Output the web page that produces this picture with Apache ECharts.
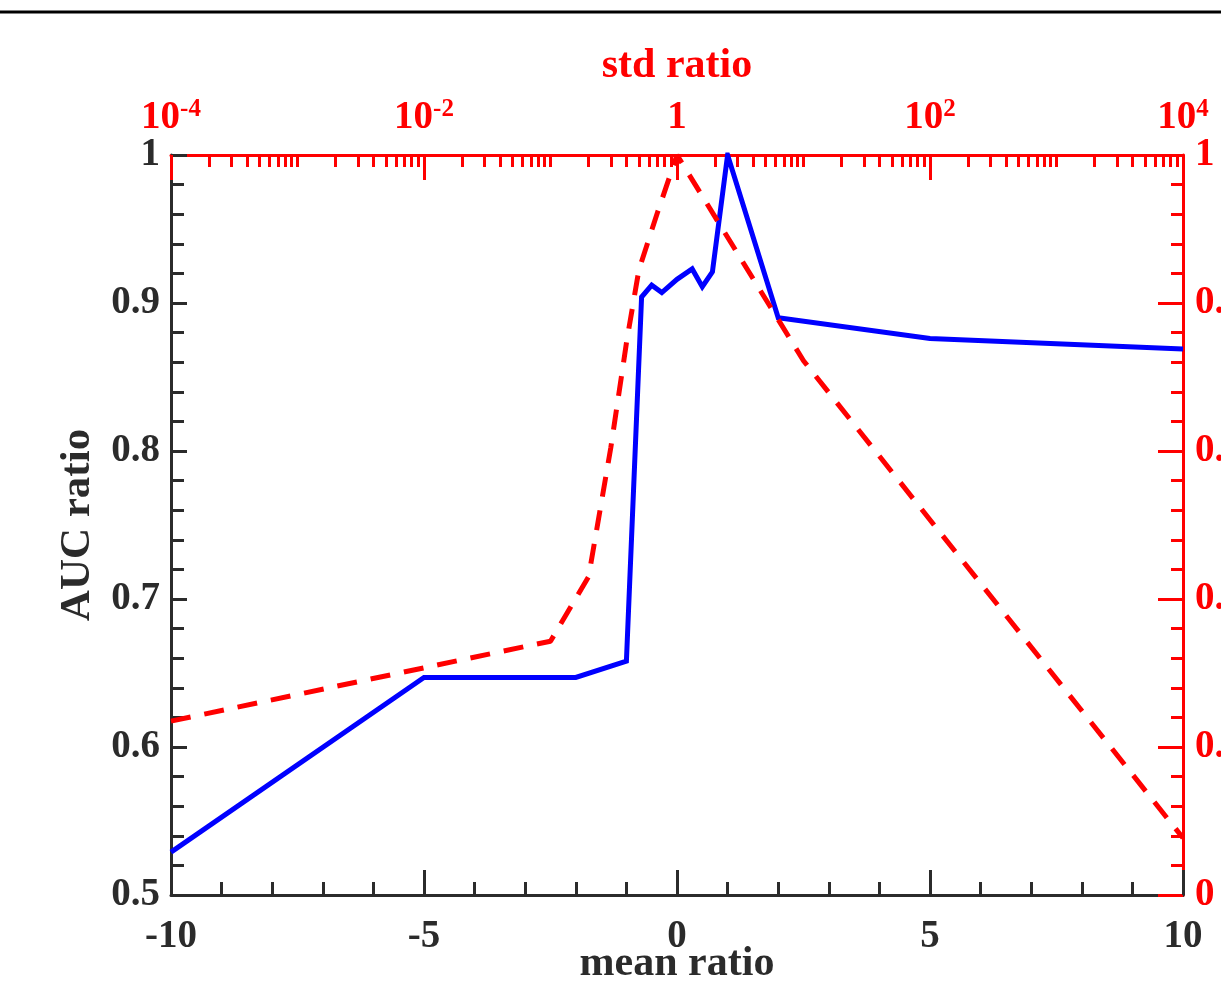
<!DOCTYPE html>
<html>
<head>
<meta charset="utf-8">
<script src="https://cdn.jsdelivr.net/npm/echarts@6/dist/echarts.min.js"></script>
<style>
html,body{margin:0;padding:0;background:#fff;}
#chart{width:1221px;height:982px;}
</style>
</head>
<body>
<div id="chart"></div>
<script>
// blue curve: mean ratio (bottom) vs AUC ratio (left)
var meanRatio = [-10, -5, -2, -1, -0.7, -0.5, -0.3, 0, 0.3, 0.5, 0.7, 1, 2, 5, 10];
var aucMean = [0.529, 0.647, 0.647, 0.658, 0.904, 0.912, 0.907, 0.916, 0.923, 0.911, 0.921, 1.0, 0.890, 0.876, 0.869];

// red dashed curve: std ratio (top, log) vs right axis
var stdRatio = [1e-4, 0.1, 0.2, 0.3, 0.4, 0.5, 0.7, 1, 10, 1e4];
var aucStd = [0.235, 0.343, 0.430, 0.605, 0.748, 0.845, 0.922, 1.0, 0.722, 0.077];

// tick labels
var stdTicks = [1e-4, 1e-2, 1, 1e2, 1e4];
var stdTickExp = [-4, -2, 0, 2, 4];
var meanTicks = [-10, -5, 0, 5, 10];
var aucTicks = [0.5, 0.6, 0.7, 0.8, 0.9, 1];

var FONT = '"Liberation Serif", "Times New Roman", serif';
var DARK = '#2b2b2b';
var RED = '#ff0000';

// small ticks on the log axis: 1..9 x 10^k, without the labelled decades
var stdMinor = [];
for (var k = -4; k < 4; k++) {
    for (var m = 1; m < 10; m++) {
        var v = m * Math.pow(10, k);
        if (m == 1 && stdTickExp.indexOf(k) >= 0) continue;
        stdMinor.push(v);
    }
}

function stdLabel(val) {
    var i = stdTicks.indexOf(val);
    var e = i >= 0 ? stdTickExp[i] : Math.round(Math.log10(val));
    if (e == 0) return '{b|1}';
    return '{b|10}{s|' + e + '}';
}

var pts1 = meanRatio.map(function (x, i) { return [x, aucMean[i]]; });
var pts2 = stdRatio.map(function (x, i) { return [x, aucStd[i]]; });

var chart = echarts.init(document.getElementById('chart'));
var option = {
    backgroundColor: '#fff',
    animation: false,
    grid: [
        {left: 171, right: 38, top: 155, bottom: 87, containLabel: false, outerBoundsMode: 'none'},
        {left: 171, right: 38, top: 155, bottom: 87, containLabel: false, outerBoundsMode: 'none'}
    ],
    xAxis: [
        {
            type: 'value', gridIndex: 0, position: 'bottom',
            min: -10, max: 10, interval: 5,
            name: 'mean ratio', nameLocation: 'middle', nameGap: 48, nameMoveOverlap: false,
            nameTextStyle: {fontFamily: FONT, fontWeight: 'bold', fontSize: 42, color: DARK},
            axisLine: {onZero: false, lineStyle: {color: DARK, width: 3}},
            axisTick: {inside: true, length: 25, lineStyle: {color: DARK, width: 3}},
            minorTick: {show: true, splitNumber: 5, length: 13, lineStyle: {color: DARK, width: 3}},
            axisLabel: {customValues: meanTicks, fontFamily: FONT, fontWeight: 'bold', fontSize: 39, color: DARK, margin: 22,
                showMinLabel: true, showMaxLabel: true},
            splitLine: {show: false}
        },
        {
            type: 'log', logBase: 10, gridIndex: 0, position: 'top',
            min: 1e-4, max: 1e4,
            name: 'std ratio', nameLocation: 'middle', nameGap: 68, nameMoveOverlap: false,
            nameTextStyle: {fontFamily: FONT, fontWeight: 'bold', fontSize: 42, color: RED},
            axisLine: {onZero: false, lineStyle: {color: RED, width: 3}},
            axisTick: {inside: true, length: 25, customValues: stdTicks, lineStyle: {color: RED, width: 3}},
            axisLabel: {
                customValues: stdTicks, margin: 16, showMinLabel: true, showMaxLabel: true,
                formatter: stdLabel,
                rich: {
                    b: {fontFamily: FONT, fontWeight: 'bold', fontSize: 39, color: RED, lineHeight: 42},
                    s: {fontFamily: FONT, fontWeight: 'bold', fontSize: 25, color: RED, verticalAlign: 'top', lineHeight: 42, padding: [0, 0, 14, 0]}
                }
            },
            splitLine: {show: false}
        },
        {
            type: 'log', logBase: 10, gridIndex: 1, position: 'top',
            min: 1e-4, max: 1e4,
            axisLine: {show: false, onZero: false},
            axisTick: {inside: true, length: 12, customValues: stdMinor, lineStyle: {color: RED, width: 3}},
            axisLabel: {show: false},
            splitLine: {show: false}
        }
    ],
    yAxis: [
        {
            type: 'value', gridIndex: 0, position: 'left',
            min: 0.5, max: 1, interval: 0.1,
            name: 'AUC ratio', nameLocation: 'middle', nameGap: 72, nameMoveOverlap: false,
            nameTextStyle: {fontFamily: FONT, fontWeight: 'bold', fontSize: 43, color: DARK},
            axisLine: {onZero: false, lineStyle: {color: DARK, width: 3}},
            axisTick: {inside: true, length: 16, lineStyle: {color: DARK, width: 3}},
            minorTick: {show: true, splitNumber: 5, length: 13, lineStyle: {color: DARK, width: 3}},
            axisLabel: {customValues: aucTicks, fontFamily: FONT, fontWeight: 'bold', fontSize: 39, color: DARK, margin: 11,
                showMinLabel: true, showMaxLabel: true},
            splitLine: {show: false}
        },
        {
            type: 'value', gridIndex: 0, position: 'right',
            min: 0, max: 1, interval: 0.2,
            axisLine: {onZero: false, lineStyle: {color: RED, width: 3}},
            axisTick: {inside: true, length: 25, lineStyle: {color: RED, width: 3}},
            minorTick: {show: true, splitNumber: 5, length: 12, lineStyle: {color: RED, width: 3}},
            axisLabel: {fontFamily: FONT, fontWeight: 'bold', fontSize: 39, color: RED, margin: 12,
                showMinLabel: true, showMaxLabel: true},
            splitLine: {show: false}
        },
        {
            type: 'value', gridIndex: 1, min: 0, max: 1, show: false
        }
    ],
    graphic: [
        {type: 'line', shape: {x1: 0, y1: 12, x2: 1221, y2: 12}, style: {stroke: '#000', lineWidth: 3}}
    ],
    series: [
        {
            name: 'mean', type: 'line', xAxisIndex: 0, yAxisIndex: 0,
            data: pts1, showSymbol: false, symbol: 'none',
            lineStyle: {color: '#0000ff', width: 5, join: 'miter'}
        },
        {
            name: 'std', type: 'line', xAxisIndex: 1, yAxisIndex: 1,
            data: pts2, showSymbol: false, symbol: 'none',
            lineStyle: {color: RED, width: 5, type: [20, 14]}
        }
    ]
};
chart.setOption(option);
</script>
</body>
</html>
